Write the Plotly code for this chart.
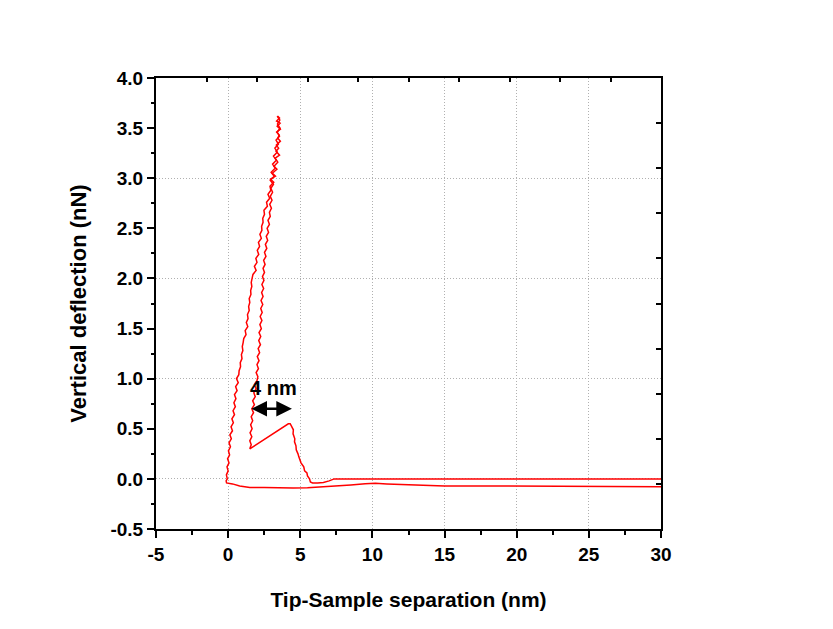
import plotly.graph_objects as go

# Curve A: far baseline (y~0) leftwards, jump-in dip, sawtooth, then up the inner branch
a_x = [30.0, 28.0, 26.0, 24.0, 22.0, 20.0, 18.0, 16.0, 14.0, 12.0, 10.0, 9.0, 8.0, 7.6, 7.35,
       7.0, 6.6, 6.2, 5.85, 5.7, 5.64, 5.5, 5.46, 5.3, 5.24, 5.05, 5.0, 4.9, 4.84, 4.72, 4.70,
       4.6, 4.62, 4.5, 4.52, 4.4, 4.3, 4.17,
       1.50, 1.60, 1.50, 1.64, 1.52, 1.66, 1.56, 1.70, 1.60, 1.76, 1.64, 1.82, 1.70, 1.88,
       1.78, 1.94, 1.82, 2.00, 2.06, 1.94, 2.10, 2.00, 2.14, 2.02, 2.18, 2.08, 2.24, 2.12,
       2.26, 2.14, 2.30, 2.20, 2.34, 2.22, 2.36, 2.26, 2.40, 2.28, 2.42, 2.32, 2.46, 2.34,
       2.48, 2.38, 2.52, 2.42, 2.56, 2.46, 2.62, 2.52, 2.68, 2.58, 2.74, 2.64, 2.80, 2.70,
       2.86, 2.76, 2.92, 2.86, 3.00, 2.88, 3.04, 2.92, 3.08, 2.96, 3.14, 2.92, 3.20, 2.98,
       3.26, 3.08, 3.34, 3.14, 3.40, 3.24, 3.48, 3.32, 3.56, 3.40, 3.60, 3.42, 3.58, 3.40]
a_y = [0.0, 0.0, 0.005, 0.0, 0.005, 0.0, 0.005, 0.0, 0.005, 0.0, 0.005, 0.005, 0.005, 0.005, 0.0,
       -0.02, -0.035, -0.04, -0.04, -0.03, 0.0, 0.03, 0.06, 0.08, 0.12, 0.16, 0.19, 0.22, 0.25,
       0.29, 0.33, 0.37, 0.40, 0.45, 0.49, 0.53, 0.55, 0.55,
       0.30, 0.34, 0.38, 0.42, 0.46, 0.50, 0.54, 0.58, 0.62, 0.66, 0.70, 0.74, 0.78, 0.82,
       0.86, 0.90, 0.94, 0.98, 1.02, 1.06, 1.10, 1.14, 1.18, 1.22, 1.26, 1.30, 1.34, 1.38,
       1.42, 1.46, 1.50, 1.54, 1.58, 1.62, 1.66, 1.70, 1.74, 1.78, 1.82, 1.86, 1.90, 1.94,
       1.98, 2.02, 2.06, 2.10, 2.14, 2.18, 2.22, 2.26, 2.30, 2.34, 2.38, 2.42, 2.46, 2.50,
       2.54, 2.58, 2.62, 2.66, 2.70, 2.74, 2.78, 2.82, 2.86, 2.90, 2.94, 2.98, 3.02, 3.06,
       3.10, 3.14, 3.18, 3.22, 3.26, 3.30, 3.34, 3.38, 3.42, 3.46, 3.50, 3.54, 3.58, 3.62]

# Curve B: from the top down the outer branch to contact, then along the lower baseline
b_x = [3.42, 3.56, 3.36, 3.60, 3.40, 3.62, 3.36, 3.54, 3.44, 3.62, 3.34, 3.50, 3.32, 3.56,
       3.26, 3.44, 3.18, 3.38, 3.06, 3.28, 2.94, 3.16, 2.90, 2.96, 2.76, 2.88, 2.66, 2.72,
       2.48, 2.52, 2.40, 2.42, 2.32, 2.34, 2.20, 2.30, 2.10, 2.18, 2.02, 2.12, 1.92, 2.00,
       1.82, 1.94, 1.72, 1.66, 1.60, 1.64, 1.56, 1.58, 1.46, 1.50, 1.42, 1.46, 1.34, 1.38,
       1.26, 1.36, 1.18, 1.24, 1.08, 1.04, 0.98, 1.02, 0.92, 0.96, 0.84, 0.86, 0.76, 0.74,
       0.58, 0.70, 0.52, 0.62, 0.44, 0.54, 0.40, 0.50, 0.34, 0.44, 0.26, 0.36, 0.20, 0.30,
       0.12, 0.22, 0.06, 0.16, 0.02, 0.10, -0.04, 0.06, -0.08, 0.00, -0.12, -0.06, -0.14,
       -0.11,
       0.3, 0.8, 1.5, 2.5, 3.5, 4.5, 5.5, 6.5, 7.5, 8.5, 9.5, 10.2, 11.0, 12.0, 13.0, 14.0,
       15.0, 16.0, 18.0, 20.0, 22.0, 24.0, 26.0, 28.0, 30.0]
b_y = [3.62, 3.60, 3.57, 3.55, 3.52, 3.49, 3.46, 3.43, 3.40, 3.37, 3.33, 3.30, 3.27, 3.23,
       3.20, 3.16, 3.12, 3.09, 3.05, 3.02, 2.99, 2.96, 2.92, 2.88, 2.84, 2.80, 2.76, 2.72,
       2.68, 2.64, 2.60, 2.56, 2.52, 2.48, 2.44, 2.40, 2.36, 2.32, 2.28, 2.24, 2.20, 2.16,
       2.12, 2.08, 2.04, 2.00, 1.96, 1.92, 1.88, 1.84, 1.80, 1.76, 1.72, 1.68, 1.64, 1.60,
       1.56, 1.52, 1.48, 1.44, 1.40, 1.36, 1.32, 1.28, 1.24, 1.20, 1.16, 1.12, 1.08, 1.04,
       1.00, 0.96, 0.92, 0.88, 0.84, 0.80, 0.76, 0.72, 0.68, 0.64, 0.60, 0.56, 0.52, 0.48,
       0.44, 0.40, 0.36, 0.32, 0.28, 0.24, 0.20, 0.16, 0.12, 0.08, 0.04, 0.00, -0.02,
       -0.04,
       -0.05, -0.07, -0.085, -0.085, -0.09, -0.09, -0.088, -0.08, -0.07, -0.06, -0.048, -0.044,
       -0.05, -0.056, -0.06, -0.065, -0.07, -0.07, -0.072, -0.073, -0.074, -0.075, -0.076,
       -0.077, -0.078]

# Tick labels (hyphen minus as in the reference)
x_tickvals = [-5, 0, 5, 10, 15, 20, 25, 30]
x_ticktext = ["-5", "0", "5", "10", "15", "20", "25", "30"]
y_tickvals = [-0.5, 0.0, 0.5, 1.0, 1.5, 2.0, 2.5, 3.0, 3.5, 4.0]
y_ticktext = ["-0.5", "0.0", "0.5", "1.0", "1.5", "2.0", "2.5", "3.0", "3.5", "4.0"]

# Annotation: double arrow marking 4 nm
arrow_x0, arrow_x1, arrow_y = 1.51, 4.42, 0.70
label_x, label_y, label_text = 3.13, 0.91, "4 nm"

x_title = "Tip-Sample separation (nm)"
y_title = "Vertical deflection (nN)"

FONT = "Arial, Liberation Sans, sans-serif"
RED = "#ff0000"
GRID = "#b0b0b0"
GRIDDASH = "1px,2px"

fig = go.Figure()
fig.add_trace(go.Scatter(x=b_x, y=b_y, mode="lines", line=dict(color=RED, width=1.5),
                         showlegend=False, hoverinfo="skip"))
fig.add_trace(go.Scatter(x=a_x, y=a_y, mode="lines", line=dict(color=RED, width=1.5),
                         showlegend=False, hoverinfo="skip"))
# empty traces so the overlay axes are drawn
fig.add_trace(go.Scatter(x=[None], y=[None], xaxis="x", yaxis="y2", showlegend=False, hoverinfo="skip"))
fig.add_trace(go.Scatter(x=[None], y=[None], xaxis="x2", yaxis="y", showlegend=False, hoverinfo="skip"))
fig.add_trace(go.Scatter(x=[None], y=[None], xaxis="x", yaxis="y3", showlegend=False, hoverinfo="skip"))

tickfont = dict(family=FONT, size=19, color="black", weight="bold")

fig.update_layout(
    width=833, height=629,
    margin=dict(l=148, r=180, t=70, b=108),
    paper_bgcolor="white", plot_bgcolor="white",
    xaxis=dict(range=[-5, 30], tickmode="array", tickvals=x_tickvals, ticktext=x_ticktext,
               showgrid=True, griddash=GRIDDASH, gridcolor=GRID, gridwidth=1, zeroline=False,
               showline=True, linecolor="black", linewidth=2, mirror=True,
               ticks="outside", ticklen=7, tickwidth=1.5, tickcolor="black",
               minor=dict(tick0=-5, dtick=2.5, ticks="outside", ticklen=4, tickwidth=1.5,
                          tickcolor="black"),
               tickfont=tickfont,
               title=dict(text=x_title, font=dict(family=FONT, size=21, color="black",
                                                  weight="bold"), standoff=29)),
    yaxis=dict(range=[-0.5, 4.0], tick0=0, dtick=1, showgrid=True, griddash=GRIDDASH,
               gridcolor=GRID, gridwidth=1, zeroline=False, showline=True, linecolor="black",
               linewidth=2, mirror=True, ticks="", showticklabels=False),
    yaxis2=dict(range=[-0.5, 4.0], tickmode="array", tickvals=y_tickvals, ticktext=y_ticktext,
                overlaying="y", anchor="x", side="left", showgrid=False, zeroline=False,
                showline=False, ticks="outside", ticklen=8, tickwidth=1.5, tickcolor="black",
                minor=dict(tick0=-0.5, dtick=0.25, ticks="outside", ticklen=4, tickwidth=1.5,
                           tickcolor="black"),
                tickfont=tickfont,
                title=dict(text=y_title, font=dict(family=FONT, size=22, color="black",
                                                   weight="bold"), standoff=17)),
    xaxis2=dict(range=[0, 1], tick0=0, dtick=0.1, overlaying="x", anchor="y", side="top",
                showgrid=False, zeroline=False, showticklabels=False, showline=False,
                ticks="inside", ticklen=4, tickwidth=1.5, tickcolor="black"),
    yaxis3=dict(range=[0, 1], tick0=0, dtick=0.1, overlaying="y", anchor="x", side="right",
                showgrid=False, zeroline=False, showticklabels=False, showline=False,
                ticks="inside", ticklen=5, tickwidth=1.5, tickcolor="black"),
    annotations=[
        dict(x=arrow_x1, y=arrow_y, ax=arrow_x0, ay=arrow_y, xref="x", yref="y",
             axref="x", ayref="y", text="", showarrow=True, arrowside="end+start",
             arrowhead=2, arrowsize=1.2, arrowwidth=2.6, arrowcolor="black", standoff=0,
             startstandoff=0),
        dict(x=label_x, y=label_y, xref="x", yref="y", text=label_text, showarrow=False,
             font=dict(family=FONT, size=20, color="black", weight="bold")),
    ],
)

fig.write_html("out.html")
